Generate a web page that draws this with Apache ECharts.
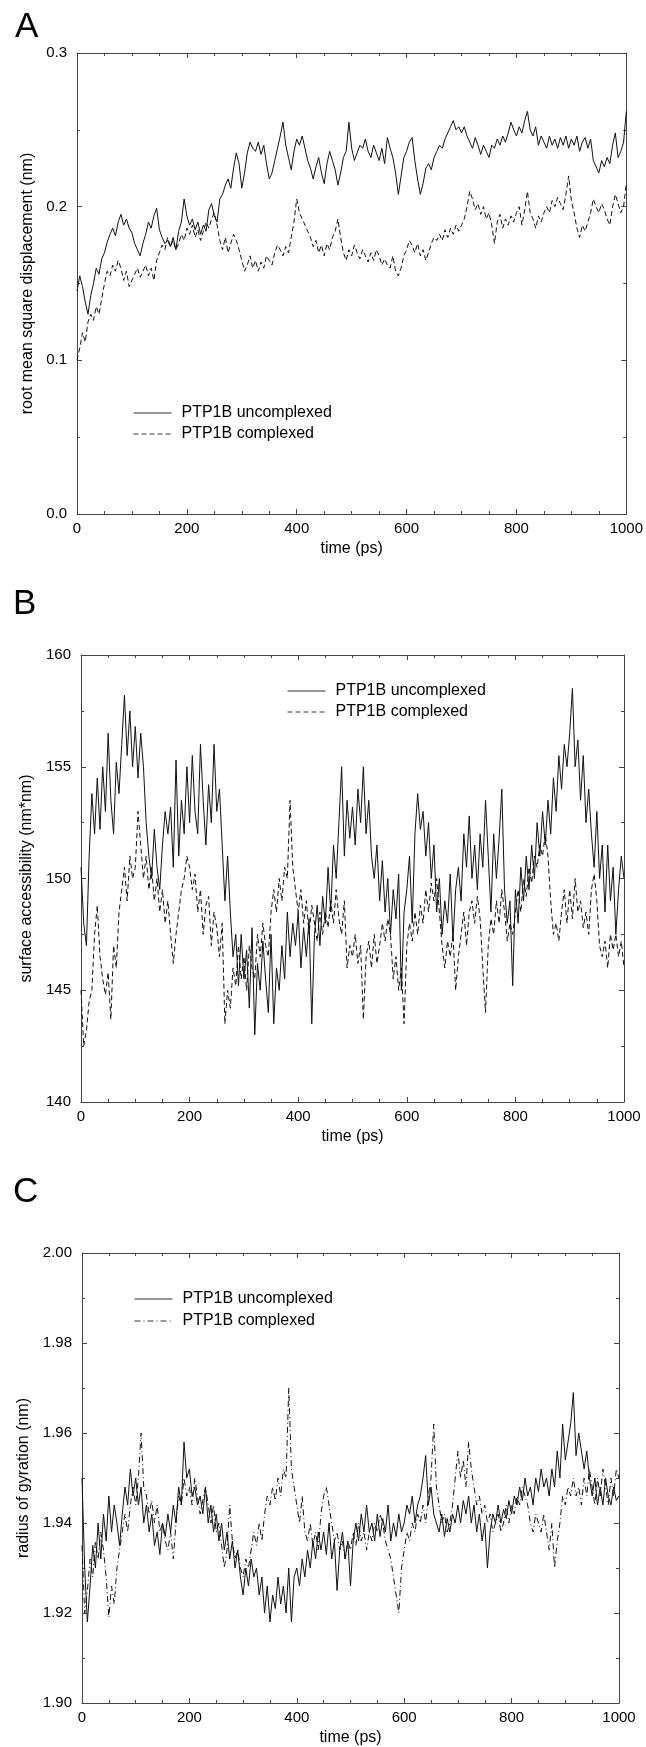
<!DOCTYPE html>
<html>
<head>
<meta charset="utf-8">
<script src="https://cdn.jsdelivr.net/npm/echarts@6/dist/echarts.min.js"></script>
<style>
  html, body { margin: 0; padding: 0; background: #fff; }
  #chart { width: 646px; height: 1747px; }
</style>
</head>
<body>
<div id="chart"></div>
<script>
// sampled every 5 ps, 0..1000
const TIME_STEP = 5;

const timeTicks = [0, 200, 400, 600, 800, 1000];
const rmsdTicks = ["0.0", "0.1", "0.2", "0.3"];
const sasTicks = ["140", "145", "150", "155", "160"];
const rgTicks = ["1.90", "1.92", "1.94", "1.96", "1.98", "2.00"];

const seriesNames = ["PTP1B uncomplexed", "PTP1B complexed"];

// A: root mean square displacement (nm)
const rmsdUncomplexed = [
  0.145, 0.155, 0.148, 0.138, 0.130, 0.142, 0.150, 0.160, 0.156, 0.166, 0.170, 0.177, 0.182, 0.186, 0.181, 0.190, 0.195, 0.188, 0.192, 0.186,
  0.183, 0.176, 0.172, 0.168, 0.176, 0.182, 0.190, 0.186, 0.194, 0.199, 0.185, 0.180, 0.176, 0.178, 0.174, 0.180, 0.172, 0.184, 0.190, 0.205,
  0.194, 0.188, 0.192, 0.185, 0.190, 0.182, 0.188, 0.184, 0.198, 0.202, 0.194, 0.190, 0.205, 0.208, 0.214, 0.218, 0.212, 0.225, 0.235, 0.228,
  0.212, 0.222, 0.235, 0.242, 0.238, 0.236, 0.242, 0.234, 0.240, 0.228, 0.218, 0.222, 0.230, 0.238, 0.246, 0.255, 0.240, 0.232, 0.224, 0.236,
  0.244, 0.240, 0.246, 0.238, 0.230, 0.225, 0.218, 0.226, 0.232, 0.222, 0.215, 0.228, 0.236, 0.230, 0.224, 0.214, 0.222, 0.232, 0.236, 0.255,
  0.238, 0.230, 0.235, 0.240, 0.238, 0.244, 0.236, 0.232, 0.240, 0.235, 0.230, 0.238, 0.228, 0.245, 0.238, 0.232, 0.222, 0.208, 0.220, 0.232,
  0.236, 0.242, 0.245, 0.230, 0.218, 0.208, 0.215, 0.225, 0.228, 0.224, 0.232, 0.236, 0.240, 0.238, 0.244, 0.248, 0.252, 0.256, 0.250, 0.252,
  0.248, 0.252, 0.246, 0.242, 0.238, 0.245, 0.240, 0.234, 0.240, 0.236, 0.232, 0.240, 0.238, 0.244, 0.240, 0.246, 0.242, 0.248, 0.255, 0.250,
  0.246, 0.252, 0.248, 0.256, 0.262, 0.250, 0.246, 0.252, 0.240, 0.246, 0.242, 0.238, 0.246, 0.240, 0.244, 0.238, 0.245, 0.240, 0.246, 0.238,
  0.244, 0.240, 0.246, 0.236, 0.242, 0.245, 0.238, 0.244, 0.230, 0.226, 0.222, 0.230, 0.226, 0.232, 0.228, 0.240, 0.248, 0.232, 0.236, 0.242,
  0.262
];
const rmsdComplexed = [
  0.100, 0.108, 0.118, 0.112, 0.125, 0.130, 0.126, 0.135, 0.130, 0.140, 0.150, 0.158, 0.155, 0.162, 0.158, 0.165, 0.160, 0.152, 0.158, 0.148,
  0.152, 0.156, 0.160, 0.154, 0.158, 0.162, 0.155, 0.160, 0.152, 0.165, 0.170, 0.175, 0.172, 0.180, 0.174, 0.178, 0.172, 0.176, 0.182, 0.178,
  0.186, 0.182, 0.188, 0.180, 0.185, 0.178, 0.184, 0.190, 0.186, 0.192, 0.196, 0.188, 0.178, 0.172, 0.180, 0.170, 0.176, 0.182, 0.178, 0.172,
  0.165, 0.158, 0.162, 0.168, 0.160, 0.165, 0.158, 0.164, 0.160, 0.168, 0.165, 0.162, 0.170, 0.175, 0.172, 0.168, 0.174, 0.170, 0.180, 0.190,
  0.205, 0.196, 0.192, 0.188, 0.184, 0.180, 0.174, 0.178, 0.170, 0.175, 0.168, 0.176, 0.172, 0.180, 0.184, 0.192, 0.180, 0.170, 0.165, 0.172,
  0.168, 0.175, 0.170, 0.166, 0.172, 0.168, 0.164, 0.170, 0.165, 0.172, 0.168, 0.162, 0.166, 0.162, 0.160, 0.168, 0.158, 0.155, 0.160, 0.168,
  0.172, 0.178, 0.175, 0.170, 0.176, 0.168, 0.172, 0.165, 0.170, 0.176, 0.180, 0.178, 0.182, 0.178, 0.185, 0.180, 0.186, 0.182, 0.188, 0.184,
  0.188, 0.192, 0.200, 0.210, 0.205, 0.198, 0.202, 0.195, 0.200, 0.192, 0.196, 0.188, 0.176, 0.190, 0.195, 0.186, 0.192, 0.188, 0.194, 0.190,
  0.196, 0.200, 0.188, 0.198, 0.210, 0.196, 0.192, 0.186, 0.194, 0.190, 0.196, 0.200, 0.196, 0.204, 0.200, 0.206, 0.202, 0.198, 0.208, 0.220,
  0.204, 0.196, 0.186, 0.180, 0.188, 0.184, 0.190, 0.196, 0.205, 0.200, 0.196, 0.202, 0.198, 0.192, 0.188, 0.200, 0.208, 0.202, 0.196, 0.200,
  0.215
];

// B: surface accessibility (nm*nm)
const sasUncomplexed = [
  150.5, 148.0, 147.0, 151.0, 153.8, 152.0, 154.5, 152.2, 155.0, 153.0, 156.5, 153.5, 152.0, 155.2, 153.8, 156.0, 158.2, 155.5, 157.5, 155.0,
  156.8, 154.5, 156.5, 155.0, 152.5, 151.0, 150.0, 152.2, 150.5, 149.5, 151.5, 153.0, 152.0, 153.2, 150.5, 155.3, 151.0, 153.5, 152.0, 155.0,
  152.5, 155.5, 153.0, 152.0, 156.0, 153.5, 151.5, 154.2, 152.5, 156.0, 153.0, 154.0, 151.5, 149.0, 151.0, 148.5, 146.5, 147.5, 145.2, 147.5,
  145.5, 146.8, 144.2, 147.8, 143.0, 146.2, 145.0, 147.2, 145.5, 144.0, 147.5, 143.5, 146.0, 145.0, 147.0, 145.5, 148.5, 146.5, 148.0, 147.0,
  148.5, 146.0, 147.8, 146.5, 148.2, 143.5, 147.5, 148.8, 147.0, 149.2, 148.0, 150.5, 148.5, 151.5, 150.0, 152.5, 155.0, 151.0, 153.5, 151.8,
  153.2, 151.5, 154.0, 152.5, 155.0, 152.0, 153.5, 151.0, 150.0, 151.5, 149.0, 150.8, 148.5, 150.0, 147.5, 149.5, 148.2, 150.2, 145.0, 148.5,
  149.5, 151.0, 148.0, 152.0, 153.8, 152.2, 153.0, 151.0, 152.5, 150.0, 151.5, 148.5, 150.0, 147.5, 149.0, 148.0, 150.2, 147.2, 149.5, 150.5,
  149.0, 152.0, 150.5, 152.8, 150.0, 151.5, 149.5, 152.0, 150.5, 153.5, 151.0, 148.5, 152.0, 150.0, 151.8, 154.0, 149.5, 148.0, 149.0, 145.2,
  149.5, 148.0, 150.5, 149.0, 151.0, 149.5, 151.5, 150.0, 152.5, 151.0, 153.0, 151.5, 153.5, 152.0, 154.5, 153.0, 155.5, 154.0, 156.0, 155.0,
  156.5, 158.5, 155.0, 156.2, 153.5, 155.5, 152.5, 154.0, 152.0, 150.5, 153.0, 150.0, 151.5, 148.5, 151.5, 149.0, 150.5, 147.5, 149.5, 151.0,
  150.0
];
const sasComplexed = [
  145.0, 142.5, 143.2, 144.5, 145.0, 147.5, 148.8, 146.5, 145.5, 144.8, 145.8, 143.7, 147.0, 146.0, 148.5, 149.5, 150.5, 149.0, 151.0, 150.0,
  150.5, 153.0, 151.5, 150.0, 151.0, 149.5, 150.5, 149.0, 150.0, 148.5, 149.5, 148.0, 149.0, 147.5, 146.2, 147.5, 148.5, 149.5, 150.0, 151.0,
  150.5, 149.5, 150.2, 148.5, 149.5, 147.5, 148.8, 149.2, 147.0, 148.5, 147.8, 146.5, 148.0, 143.5, 145.0, 144.2, 146.0, 145.2, 147.0, 145.5,
  146.5, 145.0, 147.0, 146.0, 145.5, 147.5, 146.5, 148.0, 147.0, 146.5, 148.5, 149.5, 148.5, 150.0, 149.0, 150.5, 150.0, 153.5, 150.5, 149.5,
  148.5, 149.5, 148.0, 149.0, 147.5, 148.8, 148.0, 147.2, 148.5, 147.5, 148.5, 147.8, 149.0, 148.0, 149.5, 148.2, 147.5, 149.0, 146.0, 147.0,
  146.5, 147.5, 146.2, 147.0, 143.7, 146.5, 147.2, 146.0, 147.5, 146.2, 147.0, 148.0, 147.2, 148.2, 147.5, 145.5, 146.5, 145.0, 146.0, 143.5,
  147.0, 148.0, 147.2, 148.5, 147.5, 148.8, 148.0, 149.5, 148.5, 149.8, 149.0, 150.0, 148.5, 147.0, 146.0, 147.2, 146.5, 147.5, 145.0, 146.5,
  147.5, 148.5, 147.0, 148.5, 149.0, 148.0, 149.2, 148.2, 146.0, 144.0, 147.0, 148.2, 147.5, 149.0, 148.0, 149.5, 148.5, 147.2, 148.0, 147.5,
  148.5, 149.5, 148.5, 150.0, 149.2, 150.5, 149.8, 151.0, 150.5, 151.5, 151.0, 152.0, 151.0, 149.0, 147.5, 148.0, 147.2, 148.5, 149.5, 148.0,
  149.5, 148.2, 150.0, 148.5, 149.0, 147.8, 148.5, 147.5, 149.5, 150.2, 149.0, 147.0, 146.5, 147.2, 146.0, 147.5, 146.8, 147.5, 146.5, 147.2,
  146.0
];

// C: radius of gyration (nm)
const rgUncomplexed = [
  1.950, 1.930, 1.918, 1.926, 1.935, 1.930, 1.940, 1.932, 1.942, 1.936, 1.946, 1.938, 1.944, 1.940, 1.935, 1.942, 1.948, 1.944, 1.952, 1.946,
  1.950, 1.944, 1.948, 1.940, 1.944, 1.938, 1.942, 1.935, 1.938, 1.933, 1.940, 1.937, 1.942, 1.938, 1.944, 1.940, 1.948, 1.944, 1.958, 1.950,
  1.952, 1.946, 1.948, 1.944, 1.946, 1.942, 1.948, 1.940, 1.944, 1.938, 1.942, 1.936, 1.940, 1.934, 1.938, 1.932, 1.936, 1.930, 1.934, 1.928,
  1.924, 1.930, 1.926, 1.932, 1.928, 1.930, 1.924, 1.928, 1.920, 1.926, 1.918, 1.924, 1.921, 1.928, 1.922, 1.926, 1.920, 1.930, 1.918, 1.928,
  1.930, 1.926, 1.932, 1.928, 1.934, 1.930, 1.936, 1.932, 1.938, 1.934, 1.938, 1.933, 1.940, 1.932, 1.936, 1.925, 1.934, 1.938, 1.932, 1.936,
  1.926, 1.936, 1.940, 1.936, 1.942, 1.938, 1.944, 1.938, 1.940, 1.936, 1.942, 1.937, 1.941, 1.938, 1.944, 1.936, 1.940, 1.937, 1.942, 1.938,
  1.940, 1.944, 1.942, 1.946, 1.940, 1.944, 1.946, 1.950, 1.955, 1.944, 1.948, 1.942, 1.940, 1.938, 1.942, 1.937, 1.941, 1.938, 1.942, 1.940,
  1.944, 1.940, 1.945, 1.942, 1.946, 1.940, 1.944, 1.938, 1.942, 1.936, 1.940, 1.930, 1.938, 1.942, 1.940, 1.944, 1.940, 1.943, 1.941, 1.945,
  1.942, 1.946, 1.944, 1.948, 1.945, 1.950, 1.946, 1.948, 1.944, 1.950, 1.947, 1.952, 1.948, 1.950, 1.946, 1.952, 1.948, 1.956, 1.950, 1.962,
  1.954, 1.958, 1.962, 1.969, 1.955, 1.960, 1.956, 1.952, 1.956, 1.950, 1.946, 1.950, 1.944, 1.948, 1.944, 1.950, 1.946, 1.944, 1.948, 1.945,
  1.946
];
const rgComplexed = [
  1.935, 1.920, 1.925, 1.932, 1.928, 1.936, 1.932, 1.938, 1.934, 1.928, 1.919, 1.926, 1.922, 1.930, 1.934, 1.938, 1.942, 1.938, 1.944, 1.948,
  1.944, 1.950, 1.960, 1.948, 1.946, 1.942, 1.945, 1.940, 1.944, 1.938, 1.940, 1.936, 1.934, 1.938, 1.932, 1.940, 1.946, 1.944, 1.950, 1.946,
  1.948, 1.944, 1.950, 1.946, 1.942, 1.945, 1.948, 1.944, 1.940, 1.944, 1.938, 1.940, 1.935, 1.930, 1.934, 1.944, 1.936, 1.932, 1.934, 1.930,
  1.928, 1.932, 1.930, 1.934, 1.938, 1.935, 1.940, 1.936, 1.942, 1.946, 1.944, 1.948, 1.945, 1.950, 1.946, 1.952, 1.950, 1.970, 1.952, 1.948,
  1.944, 1.940, 1.946, 1.938, 1.936, 1.940, 1.935, 1.938, 1.934, 1.942, 1.946, 1.948, 1.944, 1.940, 1.936, 1.938, 1.934, 1.936, 1.932, 1.936,
  1.934, 1.938, 1.935, 1.940, 1.936, 1.938, 1.934, 1.938, 1.936, 1.940, 1.938, 1.942, 1.940, 1.936, 1.934, 1.932, 1.928, 1.924, 1.920, 1.930,
  1.934, 1.938, 1.936, 1.940, 1.938, 1.942, 1.940, 1.944, 1.940, 1.946, 1.950, 1.962, 1.948, 1.944, 1.940, 1.942, 1.938, 1.940, 1.944, 1.950,
  1.956, 1.950, 1.954, 1.948, 1.958, 1.952, 1.948, 1.944, 1.946, 1.942, 1.944, 1.940, 1.942, 1.938, 1.940, 1.942, 1.938, 1.940, 1.944, 1.940,
  1.944, 1.942, 1.946, 1.944, 1.948, 1.946, 1.944, 1.940, 1.938, 1.942, 1.940, 1.938, 1.942, 1.938, 1.934, 1.940, 1.930, 1.936, 1.940, 1.946,
  1.944, 1.948, 1.946, 1.950, 1.946, 1.948, 1.944, 1.950, 1.946, 1.952, 1.948, 1.944, 1.950, 1.946, 1.952, 1.948, 1.944, 1.950, 1.946, 1.952,
  1.950
];

const FONT = "Liberation Sans, Arial, Helvetica, sans-serif";
const AXIS_COLOR = "#444";
const LINE_COLOR = "#111";

const toPairs = (vals) => vals.map((v, i) => [i * TIME_STEP, v]);

const tickAxis = (labels) => {
  const nums = labels.map(Number);
  const min = nums[0];
  const interval = nums[1] - nums[0];
  return {
    min,
    max: nums[nums.length - 1],
    interval,
    formatter: (v) => labels[Math.round((v - min) / interval)] ?? "",
  };
};

const panels = [
  { grid: { left: 77, top: 53, width: 550, height: 461 }, yTicks: rmsdTicks, yName: "root mean square displacement (nm)", yGap: 38, data: [rmsdUncomplexed, rmsdComplexed], dash: [5, 3] },
  { grid: { left: 81, top: 655, width: 543, height: 447 }, yTicks: sasTicks, yName: "surface accessibility (nm*nm)", yGap: 46, data: [sasUncomplexed, sasComplexed], dash: [5, 3] },
  { grid: { left: 82, top: 1253, width: 537, height: 450 }, yTicks: rgTicks, yName: "radius of gyration (nm)", yGap: 50, data: [rgUncomplexed, rgComplexed], dash: [6, 3, 1, 3] },
];

const xT = tickAxis(timeTicks.map(String));

const grid = [];
const xAxis = [];
const yAxis = [];
const series = [];

panels.forEach((p, k) => {
  grid.push(p.grid);
  const yT = tickAxis(p.yTicks);
  const base = {
    gridIndex: k,
    type: "value",
    axisLine: { show: true, onZero: false, lineStyle: { color: AXIS_COLOR, width: 1 } },
    axisTick: { show: true, inside: true, length: 5, lineStyle: { color: AXIS_COLOR } },
    minorTick: { show: true, length: 3, lineStyle: { color: AXIS_COLOR } },
    splitLine: { show: false },
  };
  xAxis.push({
    ...base,
    position: "bottom",
    min: xT.min, max: xT.max, interval: xT.interval,
    minorTick: { ...base.minorTick, splitNumber: 4 },
    axisLabel: { formatter: xT.formatter, color: "#000", fontSize: 15, fontFamily: FONT, margin: 7 },
    name: "time (ps)",
    nameLocation: "middle",
    nameGap: 27,
    nameTextStyle: { color: "#000", fontSize: 16, fontFamily: FONT },
  });
  xAxis.push({
    ...base,
    position: "top",
    min: xT.min, max: xT.max, interval: xT.interval,
    minorTick: { ...base.minorTick, splitNumber: 4 },
    axisLabel: { show: false },
  });
  yAxis.push({
    ...base,
    position: "left",
    min: yT.min, max: yT.max, interval: yT.interval,
    minorTick: { ...base.minorTick, splitNumber: 2 },
    axisLabel: { formatter: yT.formatter, color: "#000", fontSize: 15, fontFamily: FONT, margin: 10 },
    name: p.yName,
    nameLocation: "middle",
    nameGap: p.yGap,
    nameTextStyle: { color: "#000", fontSize: 16, fontFamily: FONT },
  });
  yAxis.push({
    ...base,
    position: "right",
    min: yT.min, max: yT.max, interval: yT.interval,
    minorTick: { ...base.minorTick, splitNumber: 2 },
    axisLabel: { show: false },
  });
  p.data.forEach((vals, j) => {
    series.push({
      name: seriesNames[j],
      type: "line",
      xAxisIndex: k * 2,
      yAxisIndex: k * 2,
      data: toPairs(vals),
      symbol: "none",
      z: j === 0 ? 3 : 2,
      itemStyle: { color: LINE_COLOR },
      lineStyle: { color: LINE_COLOR, width: 1, type: j === 0 ? "solid" : p.dash },
    });
  });
});

const legendBase = {
  orient: "vertical",
  padding: 0,
  itemWidth: 38,
  itemHeight: 14,
  itemGap: 5,
  selectedMode: false,
  itemStyle: { opacity: 0 },
  lineStyle: { width: 1, color: "#333" },
  textStyle: { color: "#000", fontSize: 16, fontFamily: FONT, padding: [0, 0, 0, 5] },
};

const chart = echarts.init(document.getElementById("chart"), null, { renderer: "canvas" });
chart.setOption({
  animation: false,
  backgroundColor: "#fff",
  grid,
  xAxis,
  yAxis,
  series,
  legend: [
    { ...legendBase, left: 133, top: 405, data: seriesNames.map((n) => ({ name: n })) },
    { ...legendBase, left: 287, top: 683, data: seriesNames.map((n) => ({ name: n })) },
    {
      ...legendBase, left: 134, top: 1291, itemGap: 6,
      data: [
        { name: seriesNames[0] },
        { name: seriesNames[1], lineStyle: { width: 1, type: [6, 3, 1, 3] } },
      ],
    },
  ],
  graphic: [
    { type: "text", left: 15, top: 10, style: { text: "A", fontSize: 35, fontFamily: FONT, fill: "#000" } },
    { type: "text", left: 13, top: 587, style: { text: "B", fontSize: 35, fontFamily: FONT, fill: "#000" } },
    { type: "text", left: 13, top: 1175, style: { text: "C", fontSize: 35, fontFamily: FONT, fill: "#000" } },
  ],
});

window.addEventListener("resize", () => chart.resize());
</script>
</body>
</html>
